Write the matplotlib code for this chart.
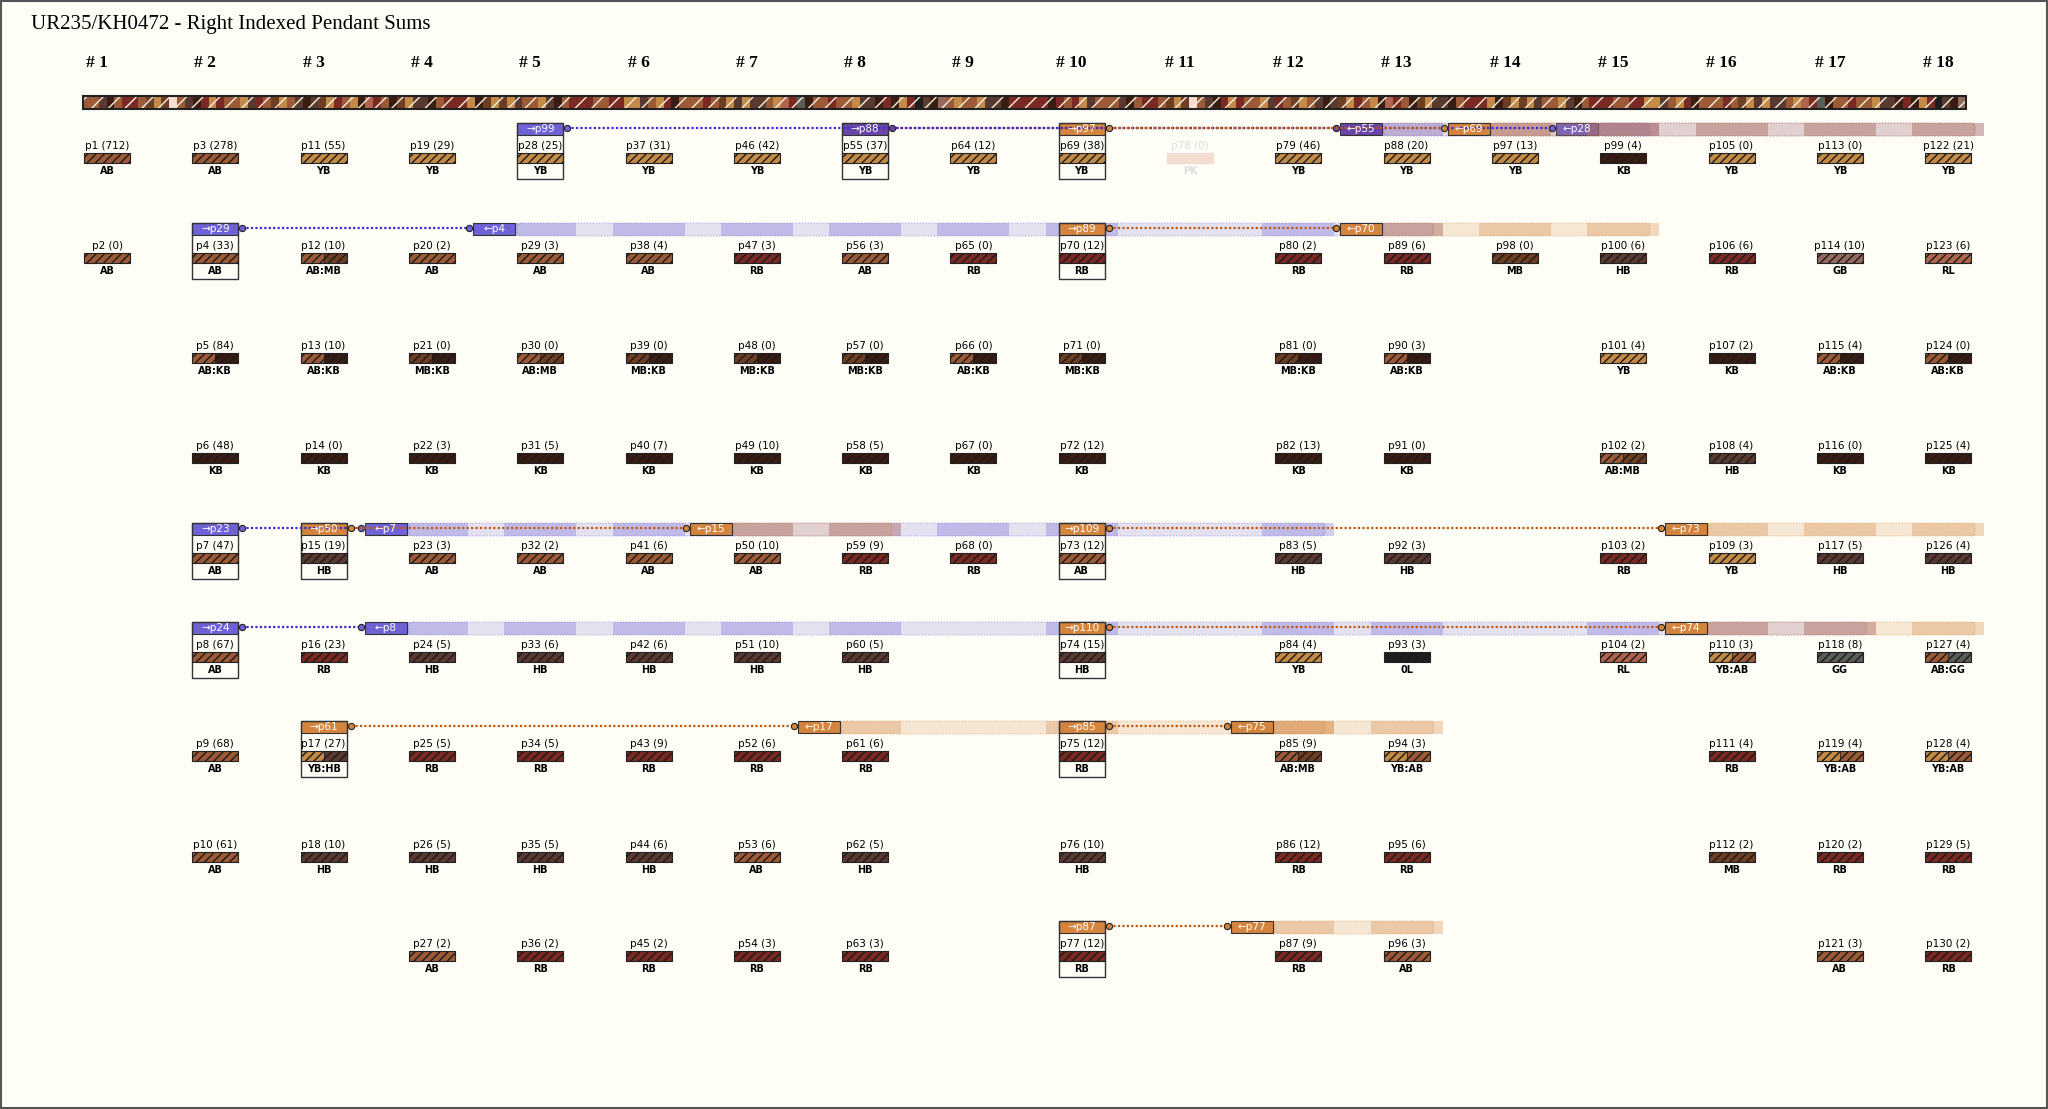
import matplotlib.pyplot as plt
from matplotlib.patches import Rectangle, FancyBboxPatch

title = "UR235/KH0472 - Right Indexed Pendant Sums"

# pendants per column (rows 0..8), None = empty
columns = [
    [("p1", 712, "AB"), ("p2", 0, "AB"), None, None, None, None, None, None, None],
    [("p3", 278, "AB"), ("p4", 33, "AB"), ("p5", 84, "AB:KB"), ("p6", 48, "KB"), ("p7", 47, "AB"),
     ("p8", 67, "AB"), ("p9", 68, "AB"), ("p10", 61, "AB"), None],
    [("p11", 55, "YB"), ("p12", 10, "AB:MB"), ("p13", 10, "AB:KB"), ("p14", 0, "KB"), ("p15", 19, "HB"),
     ("p16", 23, "RB"), ("p17", 27, "YB:HB"), ("p18", 10, "HB"), None],
    [("p19", 29, "YB"), ("p20", 2, "AB"), ("p21", 0, "MB:KB"), ("p22", 3, "KB"), ("p23", 3, "AB"),
     ("p24", 5, "HB"), ("p25", 5, "RB"), ("p26", 5, "HB"), ("p27", 2, "AB")],
    [("p28", 25, "YB"), ("p29", 3, "AB"), ("p30", 0, "AB:MB"), ("p31", 5, "KB"), ("p32", 2, "AB"),
     ("p33", 6, "HB"), ("p34", 5, "RB"), ("p35", 5, "HB"), ("p36", 2, "RB")],
    [("p37", 31, "YB"), ("p38", 4, "AB"), ("p39", 0, "MB:KB"), ("p40", 7, "KB"), ("p41", 6, "AB"),
     ("p42", 6, "HB"), ("p43", 9, "RB"), ("p44", 6, "HB"), ("p45", 2, "RB")],
    [("p46", 42, "YB"), ("p47", 3, "RB"), ("p48", 0, "MB:KB"), ("p49", 10, "KB"), ("p50", 10, "AB"),
     ("p51", 10, "HB"), ("p52", 6, "RB"), ("p53", 6, "AB"), ("p54", 3, "RB")],
    [("p55", 37, "YB"), ("p56", 3, "AB"), ("p57", 0, "MB:KB"), ("p58", 5, "KB"), ("p59", 9, "RB"),
     ("p60", 5, "HB"), ("p61", 6, "RB"), ("p62", 5, "HB"), ("p63", 3, "RB")],
    [("p64", 12, "YB"), ("p65", 0, "RB"), ("p66", 0, "AB:KB"), ("p67", 0, "KB"), ("p68", 0, "RB"),
     None, None, None, None],
    [("p69", 38, "YB"), ("p70", 12, "RB"), ("p71", 0, "MB:KB"), ("p72", 12, "KB"), ("p73", 12, "AB"),
     ("p74", 15, "HB"), ("p75", 12, "RB"), ("p76", 10, "HB"), ("p77", 12, "RB")],
    [("p78", 0, "PK"), None, None, None, None, None, None, None, None],
    [("p79", 46, "YB"), ("p80", 2, "RB"), ("p81", 0, "MB:KB"), ("p82", 13, "KB"), ("p83", 5, "HB"),
     ("p84", 4, "YB"), ("p85", 9, "AB:MB"), ("p86", 12, "RB"), ("p87", 9, "RB")],
    [("p88", 20, "YB"), ("p89", 6, "RB"), ("p90", 3, "AB:KB"), ("p91", 0, "KB"), ("p92", 3, "HB"),
     ("p93", 3, "0L"), ("p94", 3, "YB:AB"), ("p95", 6, "RB"), ("p96", 3, "AB")],
    [("p97", 13, "YB"), ("p98", 0, "MB"), None, None, None, None, None, None, None],
    [("p99", 4, "KB"), ("p100", 6, "HB"), ("p101", 4, "YB"), ("p102", 2, "AB:MB"), ("p103", 2, "RB"),
     ("p104", 2, "RL"), None, None, None],
    [("p105", 0, "YB"), ("p106", 6, "RB"), ("p107", 2, "KB"), ("p108", 4, "HB"), ("p109", 3, "YB"),
     ("p110", 3, "YB:AB"), ("p111", 4, "RB"), ("p112", 2, "MB"), None],
    [("p113", 0, "YB"), ("p114", 10, "GB"), ("p115", 4, "AB:KB"), ("p116", 0, "KB"), ("p117", 5, "HB"),
     ("p118", 8, "GG"), ("p119", 4, "YB:AB"), ("p120", 2, "RB"), ("p121", 3, "AB")],
    [("p122", 21, "YB"), ("p123", 6, "RL"), ("p124", 0, "AB:KB"), ("p125", 4, "KB"), ("p126", 4, "HB"),
     ("p127", 4, "AB:GG"), ("p128", 4, "YB:AB"), ("p129", 5, "RB"), ("p130", 2, "RB")],
]

# sum links: (source column, row, source name, target name, first summed column, last summed column, colour)
links = [
    (5, 0, "p28", "p99", 15, 18, "purple"),
    (8, 0, "p55", "p88", 13, 15, "darkpurple"),
    (10, 0, "p69", "p97", 14, 18, "orange"),
    (2, 1, "p4", "p29", 5, 13, "purple"),
    (10, 1, "p70", "p89", 13, 15, "orange"),
    (2, 4, "p7", "p23", 4, 12, "purple"),
    (3, 4, "p15", "p50", 7, 8, "orange"),
    (10, 4, "p73", "p109", 16, 18, "orange"),
    (2, 5, "p8", "p24", 4, 17, "purple"),
    (10, 5, "p74", "p110", 16, 18, "orange"),
    (3, 6, "p17", "p61", 8, 12, "orange"),
    (10, 6, "p75", "p85", 12, 13, "orange"),
    (10, 8, "p77", "p87", 12, 13, "orange"),
]

cord_colors = {"AB": "#9c5a36", "YB": "#c48a48", "KB": "#3a1c12", "RB": "#7a2a22", "HB": "#5a3a30",
               "MB": "#6e3e22", "GB": "#94685c", "RL": "#b0644e", "PK": "#f6ddd2", "0L": "#1e1e1e",
               "GG": "#5a5e58"}
tag_colors = {"purple": "#6e62d6", "darkpurple": "#6a44a8", "orange": "#d4843c"}
line_colors = {"purple": "#3a2ad0", "darkpurple": "#5a2a9a", "orange": "#c05a10"}

fig = plt.figure(figsize=(20.48, 11.09), dpi=100)
fig.patch.set_facecolor("#fefdf6")
ax = fig.add_axes([0, 0, 1, 1])
ax.set_xlim(0, 2048)
ax.set_ylim(1109, 0)
ax.axis("off")
ax.add_patch(Rectangle((1, 1), 2046, 1107, fill=False, ec="#555555", lw=1.5))

x0, dx = 107, 108.3
row_y = [146, 246, 346, 446, 546, 645, 744, 845, 944]
hw = 23


def cx(c):
    return x0 + (c - 1) * dx


ax.text(31, 24, title, fontsize=15, family="Liberation Serif", va="center")
for c in range(1, 19):
    ax.text(cx(c) - 10, 63, "# %d" % c, fontsize=12.5, family="Liberation Serif", va="center",
            ha="center", weight="bold")

# top cord bar
all_codes = [p[2] for col in columns for p in col if p]
n_seg = 240
bx0, bx1 = 83, 1966
seg_w = (bx1 - bx0) / n_seg
for i in range(n_seg):
    code = all_codes[(i * 7) % len(all_codes)].split(":")[0]
    ax.add_patch(Rectangle((bx0 + i * seg_w, 96), seg_w, 13, fc=cord_colors[code], ec="#f5f0e0",
                           hatch="//", lw=0))
ax.add_patch(Rectangle((bx0, 96), bx1 - bx0, 13, fill=False, ec="#222222", lw=1.5))

# bands
for sc, r, sname, tname, c0, c1, col in links:
    y = row_y[r] - 17
    tc = tag_colors[col]
    for c in range(c0, c1 + 1):
        left = cx(c) - dx / 2 if c > c0 else cx(c) - hw - 2
        right = cx(c) + dx / 2 if c < c1 else cx(c) + hw + 4
        ax.add_patch(Rectangle((left, y - 6), right - left, 13, fc=tc, alpha=0.18, lw=0))
        p = columns[c - 1][r]
        if p:
            ax.add_patch(Rectangle((cx(c) - 36, y - 6), 72, 13, fc=tc, alpha=0.3, lw=0))
    ax.add_patch(FancyBboxPatch((cx(c0) - hw, y - 6), cx(c1) + hw + 4 - (cx(c0) - hw), 13,
                                boxstyle="round,pad=0,rounding_size=5", fill=False,
                                ec=tc, alpha=0.5, lw=0.8, ls=":"))
    # target tag
    tl = cx(c0) - hw - 44
    ax.add_patch(Rectangle((tl, y - 6), 42, 12, fc=tc, ec="#333333", lw=0.8))
    ax.text(tl + 21, y, "\u2190" + sname, color="white", fontsize=7.5, ha="center", va="center")
    # source tag and dotted line
    sx = cx(sc)
    ax.add_patch(Rectangle((sx - hw, y - 6), 2 * hw, 12, fc=tc, ec="#333333", lw=0.8))
    ax.text(sx, y, "\u2192" + tname, color="white", fontsize=7.5, ha="center", va="center")
    ax.plot([sx + hw + 4, tl - 4], [y - 1, y - 1], ls=(0, (1, 1)), color=line_colors[col], lw=1.6)
    for xx in (sx + hw + 4, tl - 4):
        ax.plot(xx, y - 1, "o", ms=4.5, mfc=tc, mec="#222222", mew=0.8)
    ax.add_patch(Rectangle((sx - hw, y - 6), 2 * hw, 56, fill=False, ec="#333333", lw=1))

# pendants
for ci, col in enumerate(columns, start=1):
    for r, p in enumerate(col):
        if not p:
            continue
        name, val, code = p
        x, y = cx(ci), row_y[r]
        faded = code == "PK"
        tcol = "#dddddd" if faded else "black"
        ax.text(x, y, "%s (%d)" % (name, val), fontsize=7.5, ha="center", va="center", color=tcol)
        parts = code.split(":")
        w = 2 * hw / len(parts)
        for k, part in enumerate(parts):
            ax.add_patch(Rectangle((x - hw + k * w, y + 7), w, 10, fc=cord_colors[part],
                                   ec="#e8d8c0" if faded else "#1a1a1a", hatch=None if faded else "////", lw=0.5))
        ax.add_patch(Rectangle((x - hw, y + 7), 2 * hw, 10, fill=False,
                               ec="#eeddcc" if faded else "#222222", lw=0.8))
        ax.text(x, y + 25, code, fontsize=7, ha="center", va="center", color=tcol, weight="bold")

fig.savefig("out.png", dpi=100, facecolor=fig.get_facecolor())
